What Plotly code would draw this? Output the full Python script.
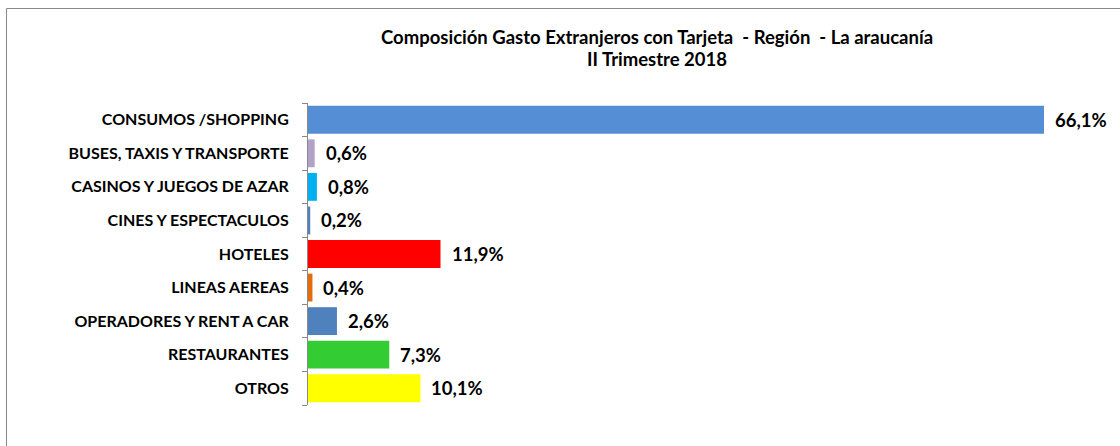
import plotly.graph_objects as go

categories = ["CONSUMOS /SHOPPING", "BUSES, TAXIS Y TRANSPORTE", "CASINOS Y JUEGOS DE AZAR",
              "CINES Y ESPECTACULOS", "HOTELES", "LINEAS AEREAS", "OPERADORES Y RENT A CAR",
              "RESTAURANTES", "OTROS"]
values = [66.1, 0.6, 0.8, 0.2, 11.9, 0.4, 2.6, 7.3, 10.1]
colors = ["#558ED5", "#B3A2C7", "#00B0F0", "#4F81BD", "#FF0000", "#E46C0A", "#4F81BD", "#33CC33", "#FFFF00"]
title_line1 = "Composición Gasto Extranjeros con Tarjeta  - Región  - La araucanía"
title_line2 = "II Trimestre 2018"

labels = [f"{v:.1f}".replace(".", ",") + "%" for v in values]
FONT = "Lato"

fig = go.Figure()
fig.add_trace(go.Bar(
    x=values, y=categories, orientation="h",
    marker=dict(color=colors, line=dict(width=0)),
    hoverinfo="skip",
))

for v, c, t in zip(values, categories, labels):
    fig.add_annotation(x=v, y=c, xref="x", yref="y", text=f"<b>{t}</b>", showarrow=False,
                       xanchor="left", xshift=9, font=dict(family=FONT, size=18.5, color="#000000"))

W, H = 1120, 446
L, R, T, B = 308, 20, 103, 41
pw, ph = W - L - R, H - T - B
fig.add_annotation(x=(657 - L) / pw, y=(H - B - 37) / ph, xref="paper", yref="paper",
                   text=f"<b>{title_line1}</b>", showarrow=False, xanchor="center", yanchor="middle",
                   font=dict(family=FONT, size=18.5, color="#000000"))
fig.add_annotation(x=(657 - L) / pw, y=(H - B - 59) / ph, xref="paper", yref="paper",
                   text=f"<b>{title_line2}</b>", showarrow=False, xanchor="center", yanchor="middle",
                   font=dict(family=FONT, size=18.5, color="#000000"))

fig.add_shape(type="rect", xref="paper", yref="paper",
              x0=(6.5 - L) / pw, x1=1.2, y0=-0.5, y1=(H - B - 8.5) / ph,
              line=dict(color="#898989", width=1), fillcolor="rgba(0,0,0,0)", layer="below")

fig.update_layout(
    width=W, height=H,
    margin=dict(l=L, r=R, t=T, b=B, pad=0),
    paper_bgcolor="white", plot_bgcolor="white",
    bargap=0.17, showlegend=False,
    xaxis=dict(range=[0, 66.1 * pw / (1044 - L)], visible=False, fixedrange=True),
    yaxis=dict(autorange="reversed", type="category", showline=True, linecolor="#898989", linewidth=1,
               ticks="outside", ticklen=5, tickcolor="#898989", tickson="boundaries",
               tickfont=dict(family=FONT, size=16, color="#000000"), ticklabelstandoff=15,
               showgrid=False, zeroline=False, fixedrange=True, automargin=False),
)
fig.update_yaxes(ticktext=[f"<b>{c}</b>" for c in categories], tickvals=categories)

fig.write_html("out.html", config={"displayModeBar": False},
               post_script="document.body.style.margin='0';")
